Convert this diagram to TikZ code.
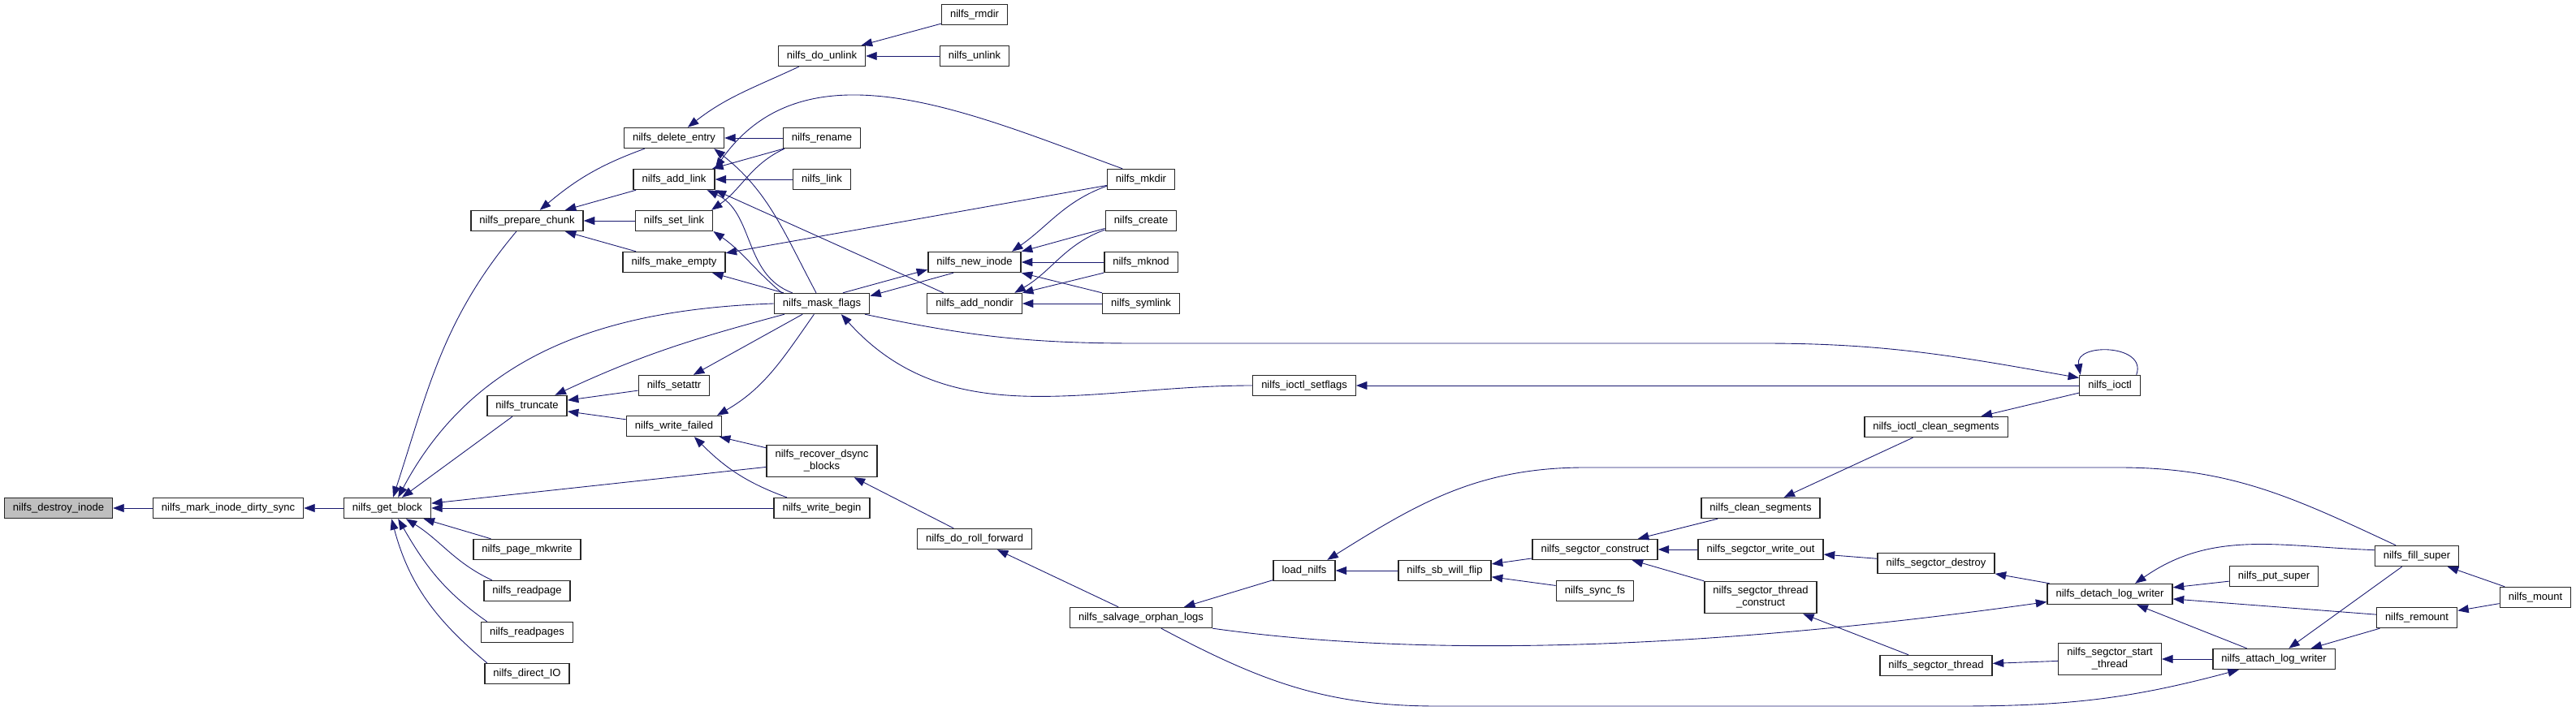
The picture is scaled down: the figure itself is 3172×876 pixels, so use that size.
\documentclass[tikz,border=0pt]{standalone}
\usepackage{fontspec}
\setmainfont{Liberation Sans}
\usepackage{tikz}
\usetikzlibrary{arrows.meta}
\definecolor{edgeblue}{HTML}{191970}

\begin{document}
\begin{tikzpicture}[
    x=0.2mm, y=0.2mm,
    box/.style={rectangle, draw=black!85, line width=0.8pt, fill=white, minimum height=5mm, inner xsep=2.1mm, inner ysep=1.2mm, align=center, font=\fontsize{7.4pt}{8.6pt}\selectfont},
    focus/.style={box, fill=black!25},
    arrow/.style={-{Triangle[length=2.7mm, width=2mm]}, draw=edgeblue, line width=0.5pt}
]
\useasboundingbox (0,0) rectangle (3172,-876);

% Root and its callers
\node[focus] (destroy) at (72,-626) {nilfs\_destroy\_inode};
\node[box] (mark) at (281,-626) {nilfs\_mark\_inode\_dirty\_sync};
\node[box] (getblock) at (477,-626) {nilfs\_get\_block};

% Callers of get_block
\node[box] (prepare) at (649,-272) {nilfs\_prepare\_chunk};
\node[box] (truncate) at (649,-500) {nilfs\_truncate};
\node[box] (pagemk) at (649,-677) {nilfs\_page\_mkwrite};
\node[box] (readpage) at (649,-728) {nilfs\_readpage};
\node[box] (readpages) at (649,-779) {nilfs\_readpages};
\node[box] (directio) at (649,-830) {nilfs\_direct\_IO};

% Directory entries
\node[box] (delete) at (830,-170) {nilfs\_delete\_entry};
\node[box] (addlink) at (830,-221) {nilfs\_add\_link};
\node[box] (setlink) at (830,-272) {nilfs\_set\_link};
\node[box] (makeempty) at (830,-323) {nilfs\_make\_empty};
\node[box] (setattr) at (830,-475) {nilfs\_setattr};
\node[box] (writefailed) at (830,-525) {nilfs\_write\_failed};

\node[box] (dounlink) at (1012,-69) {nilfs\_do\_unlink};
\node[box] (rename) at (1012,-170) {nilfs\_rename};
\node[box] (link) at (1012,-221) {nilfs\_link};
\node[box] (mask) at (1012,-374) {nilfs\_mask\_flags};
\node[box] (recover) at (1012,-568) {nilfs\_recover\_dsync\\ \_blocks};
\node[box] (writebegin) at (1012,-626) {nilfs\_write\_begin};

\node[box] (rmdir) at (1200,-18) {nilfs\_rmdir};
\node[box] (unlink) at (1200,-69) {nilfs\_unlink};
\node[box] (newinode) at (1200,-323) {nilfs\_new\_inode};
\node[box] (addnondir) at (1200,-374) {nilfs\_add\_nondir};
\node[box] (rollfwd) at (1200,-664) {nilfs\_do\_roll\_forward};

\node[box] (mkdir) at (1405,-221) {nilfs\_mkdir};
\node[box] (create) at (1405,-272) {nilfs\_create};
\node[box] (mknod) at (1405,-323) {nilfs\_mknod};
\node[box] (symlink) at (1405,-374) {nilfs\_symlink};
\node[box] (salvage) at (1405,-761) {nilfs\_salvage\_orphan\_logs};

% Segment constructor side
\node[box] (setflags) at (1606,-475) {nilfs\_ioctl\_setflags};
\node[box] (loadnilfs) at (1606,-703) {load\_nilfs};
\node[box] (sbflip) at (1779,-703) {nilfs\_sb\_will\_flip};
\node[box] (construct) at (1964,-677) {nilfs\_segctor\_construct};
\node[box] (syncfs) at (1964,-728) {nilfs\_sync\_fs};
\node[box] (cleanseg) at (2168,-626) {nilfs\_clean\_segments};
\node[box] (writeout) at (2168,-677) {nilfs\_segctor\_write\_out};
\node[box] (threadconstr) at (2168,-736) {nilfs\_segctor\_thread\\ \_construct};
\node[box] (ioctlclean) at (2384,-526) {nilfs\_ioctl\_clean\_segments};
\node[box] (segdestroy) at (2384,-694) {nilfs\_segctor\_destroy};
\node[box] (segthread) at (2384,-820) {nilfs\_segctor\_thread};
\node[box] (ioctl) at (2598,-475) {nilfs\_ioctl};
\node[box] (detach) at (2598,-732) {nilfs\_detach\_log\_writer};
\node[box] (startthread) at (2598,-812) {nilfs\_segctor\_start\\ \_thread};
\node[box] (putsuper) at (2800,-710) {nilfs\_put\_super};
\node[box] (attach) at (2800,-812) {nilfs\_attach\_log\_writer};
\node[box] (fillsuper) at (2976,-685) {nilfs\_fill\_super};
\node[box] (remount) at (2976,-761) {nilfs\_remount};
\node[box] (mount) at (3122,-736) {nilfs\_mount};

% Into get_block
\draw[arrow] (mark) -- (destroy);
\draw[arrow] (getblock) -- (mark);
\draw[arrow] (prepare.-135) to[out=-130,in=72] (getblock.62);
\draw[arrow] (mask.west) to[out=182,in=62] (getblock.45);
\draw[arrow] (truncate) -- (getblock);
\draw[arrow] (recover) -- (getblock);
\draw[arrow] (writebegin) -- (getblock);
\draw[arrow] (pagemk) -- (getblock);
\draw[arrow] (readpage.163) to[out=155,in=-32] (getblock.-30);
\draw[arrow] (readpages.165) to[out=145,in=-60] (getblock.-45);
\draw[arrow] (directio.165) to[out=140,in=-75] (getblock.-69);

% Into prepare_chunk and the directory helpers
\draw[arrow] (delete) to[out=200,in=40] (prepare);
\draw[arrow] (addlink) -- (prepare);
\draw[arrow] (setlink) -- (prepare);
\draw[arrow] (makeempty) -- (prepare);
\draw[arrow] (dounlink) to[out=205,in=38] (delete);
\draw[arrow] (rename) -- (delete);
\draw[arrow] (mask) to[out=118,in=-38] (delete.-15);
\draw[arrow] (rename) -- (addlink);
\draw[arrow] (link) -- (addlink);
\draw[arrow] (mkdir.150) to[out=160,in=55] (addlink.north east);
\draw[arrow] (mask.160) to[out=160,in=-25] (addlink.-18);
\draw[arrow] (addnondir.161) -- (addlink.south east);
\draw[arrow] (rename.196) to[out=205,in=35] (setlink.16);
\draw[arrow] (mask.165) to[out=140,in=-35] (setlink.-15);
\draw[arrow] (mask) -- (makeempty);
\draw[arrow] (mkdir.190) -- (makeempty.10);
\draw[arrow] (rmdir) -- (dounlink);
\draw[arrow] (unlink) -- (dounlink);

% Inode creation
\draw[arrow] (mask.27) -- (newinode.189);
\draw[arrow] (newinode.207) -- (mask.9);
\draw[arrow] (mkdir.191) to[out=200,in=35] (newinode.16);
\draw[arrow] (create.192) -- (newinode.north east);
\draw[arrow] (mknod) -- (newinode);
\draw[arrow] (symlink.north west) -- (newinode.south east);
\draw[arrow] (create.194) to[out=200,in=30] (addnondir.15);
\draw[arrow] (mknod.196) -- (addnondir.north east);
\draw[arrow] (symlink) -- (addnondir);

% Truncate and write paths
\draw[arrow] (writebegin.163) to[out=160,in=-45] (writefailed.-28);
\draw[arrow] (recover) -- (writefailed);
\draw[arrow] (writefailed) -- (truncate);
\draw[arrow] (setattr) -- (truncate);
\draw[arrow] (mask.196) to[out=195,in=25] (truncate.21);
\draw[arrow] (mask) -- (setattr);
\draw[arrow] (mask.-126) to[out=235,in=30] (writefailed.14);
\draw[arrow] (rollfwd) -- (recover);
\draw[arrow] (salvage) -- (rollfwd);

% ioctl
\draw[arrow] (setflags.west) to[out=180,in=-48] (mask.-29);
\draw[arrow] (mask.-14) to[out=-12,in=180] (1400,-423) -- (2170,-423) to[out=0,in=170] (ioctl.166);
\draw[arrow] (ioctl) -- (setflags);
\draw[arrow] (ioctl) -- (ioctlclean);
\draw[arrow] (ioctl.22) to[out=70,in=100,looseness=1.5] (ioctl.160);
\draw[arrow] (ioctlclean) -- (cleanseg);

% Segment constructor
\draw[arrow] (cleanseg) -- (construct);
\draw[arrow] (writeout) -- (construct);
\draw[arrow] (threadconstr) -- (construct);
\draw[arrow] (construct) -- (sbflip);
\draw[arrow] (syncfs) -- (sbflip);
\draw[arrow] (sbflip) -- (loadnilfs);
\draw[arrow] (fillsuper.153) to[out=155,in=0] (2609,-576) -- (1952,-576) to[out=180,in=32] (loadnilfs.25);
\draw[arrow] (loadnilfs) -- (salvage.14);
\draw[arrow] (salvage.south east) to[out=-8,in=188,looseness=0.8] (detach.187);
\draw[arrow] (salvage.-28) to[out=-28,in=180] (1770,-870) -- (2410,-870) to[out=0,in=195] (attach.197);
\draw[arrow] (segdestroy) -- (writeout);
\draw[arrow] (segthread) -- (threadconstr);
\draw[arrow] (detach) -- (segdestroy);
\draw[arrow] (startthread) -- (segthread);
\draw[arrow] (attach) -- (startthread);
\draw[arrow] (attach) -- (detach);

% Mount side
\draw[arrow] (fillsuper.172) to[out=178,in=35] (detach.23);
\draw[arrow] (putsuper) -- (detach.6);
\draw[arrow] (remount) -- (detach);
\draw[arrow] (fillsuper) -- (attach);
\draw[arrow] (remount) -- (attach);
\draw[arrow] (mount) -- (fillsuper);
\draw[arrow] (mount) -- (remount);

\end{tikzpicture}
\end{document}
